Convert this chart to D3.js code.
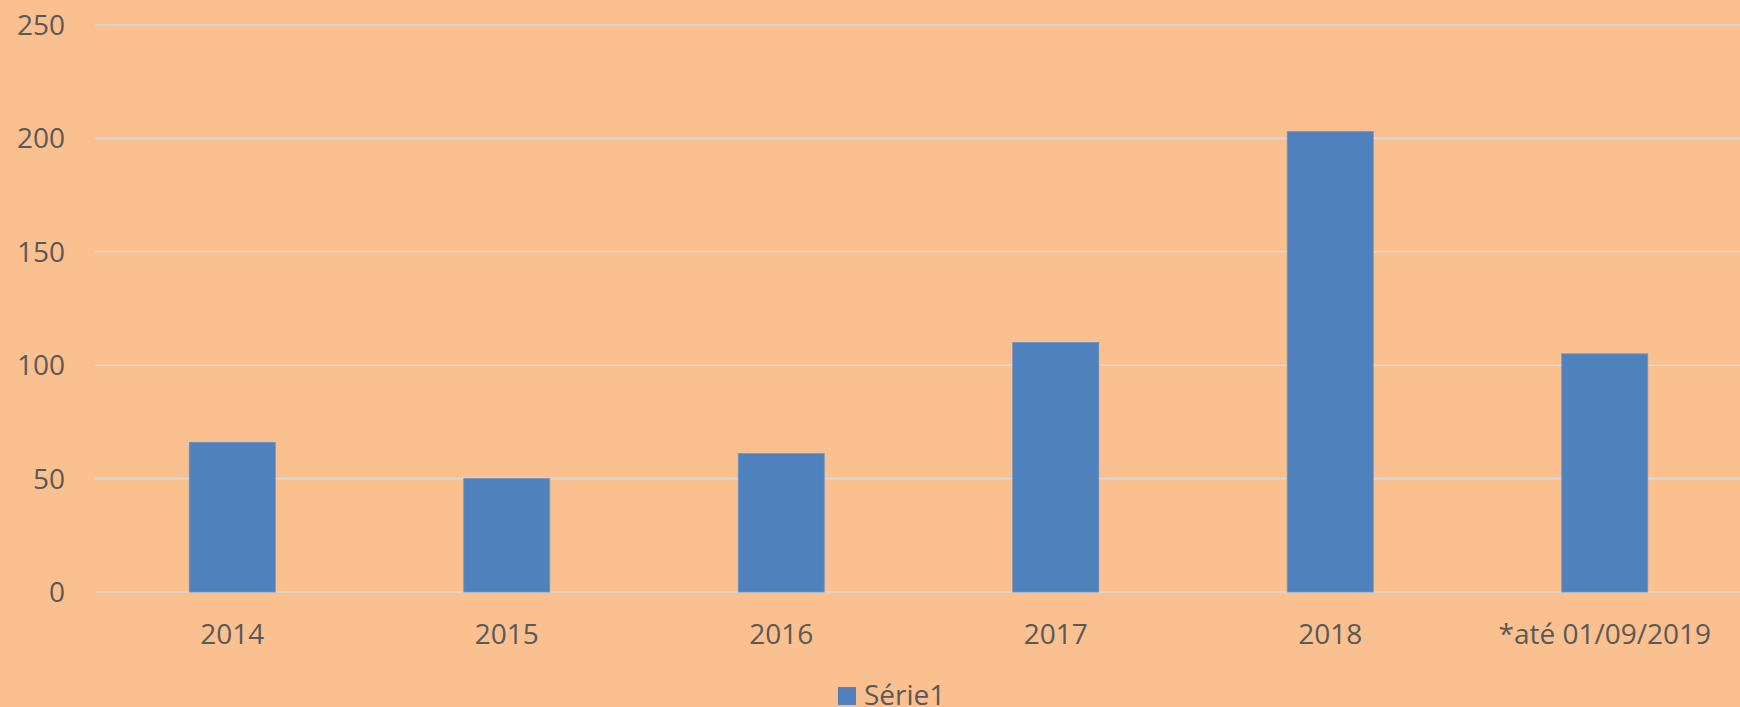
<!DOCTYPE html>
<html>
<head>
<meta charset="utf-8">
<script src="https://cdn.jsdelivr.net/npm/d3@7"></script>
<style>
  html, body { margin: 0; padding: 0; background: #FAC090; }
  svg { display: block; }
</style>
</head>
<body>
<svg id="chart" width="1740" height="707"></svg>
<script>
const categories = ["2014", "2015", "2016", "2017", "2018", "*até 01/09/2019"];
const values = [66, 50, 61, 110, 203, 105];
const yTicks = [0, 50, 100, 150, 200, 250];
const seriesName = "Série1";

const W = 1740, H = 707;
const svg = d3.select("#chart");
svg.append("rect").attr("width", W).attr("height", H).attr("fill", "#FAC090");

const x = d3.scaleBand().domain(categories).range([95, 1742])
  .paddingInner(0.6867).paddingOuter(0.6867 / 2);
const y = d3.scaleLinear().domain([0, 250]).range([592, 25]);

const font = "'Open Sans', sans-serif";
const textColor = "#595959";

// gridlines
svg.append("g").selectAll("line").data(yTicks).join("line")
  .attr("x1", 95).attr("x2", 1740)
  .attr("y1", d => y(d)).attr("y2", d => y(d))
  .attr("stroke", "#D9D9D9").attr("stroke-width", 1.6);

// y labels
svg.append("g").selectAll("text").data(yTicks).join("text")
  .attr("x", 65).attr("y", d => y(d) + 10)
  .attr("text-anchor", "end")
  .attr("font-family", font).attr("font-size", 28).attr("fill", textColor)
  .text(d => d);

// bars
svg.append("g").selectAll("rect").data(values).join("rect")
  .attr("x", (d, i) => x(categories[i]))
  .attr("width", x.bandwidth())
  .attr("y", d => y(d))
  .attr("height", d => y(0) - y(d))
  .attr("fill", "#4F81BD")
  .attr("stroke", "#6A93C6").attr("stroke-width", 0.8);

// x labels
svg.append("g").selectAll("text").data(categories).join("text")
  .attr("x", d => x(d) + x.bandwidth() / 2).attr("y", 644)
  .attr("text-anchor", "middle")
  .attr("font-family", font).attr("font-size", 28).attr("fill", textColor)
  .text(d => d);

// legend
const lg = svg.append("g");
lg.append("rect").attr("x", 838).attr("y", 687).attr("width", 18).attr("height", 18).attr("fill", "#4F81BD");
lg.append("text").attr("x", 864).attr("y", 705)
  .attr("font-family", font).attr("font-size", 28).attr("fill", textColor)
  .text(seriesName);
</script>
</body>
</html>
